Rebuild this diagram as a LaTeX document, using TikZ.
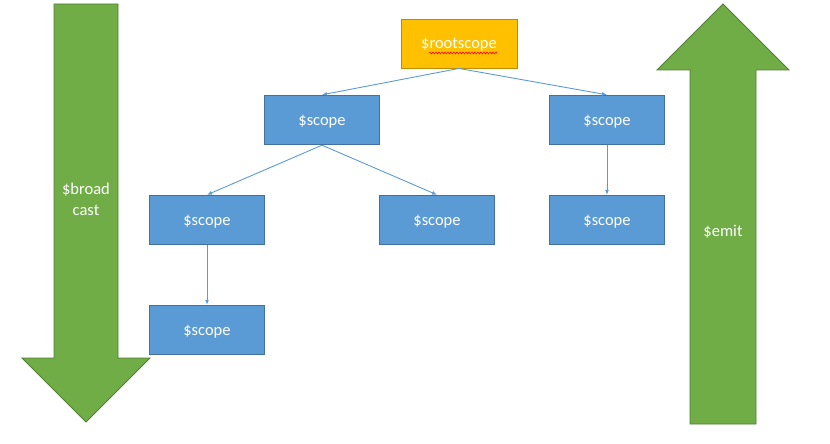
\documentclass[tikz,border=0pt]{standalone}
\usepackage{fontspec}
\setmainfont{Carlito}
\usetikzlibrary{arrows.meta,decorations.pathmorphing}
\definecolor{boxblue}{HTML}{5B9BD5}
\definecolor{boxedge}{HTML}{41719C}
\definecolor{rootfill}{HTML}{FFC000}
\definecolor{rootedge}{HTML}{BC8C00}
\definecolor{arrgreen}{HTML}{70AD47}
\definecolor{arredge}{HTML}{507E32}
\tikzset{
  scopebox/.style={draw=boxedge, fill=boxblue, line width=0.9pt, minimum width=115pt, minimum height=49.5pt, inner sep=0pt, text=white, text depth=0pt, font=\fontsize{16.5}{20}\selectfont},
  rootbox/.style={scopebox, draw=rootedge, fill=rootfill, minimum width=116pt, minimum height=49pt},
  bigarrow/.style={fill=arrgreen, draw=arredge, line width=0.8pt},
  arrowtext/.style={text=white, font=\fontsize{16.5}{21}\selectfont, align=center, inner sep=0pt},
  link/.style={draw=boxblue, line width=0.9pt, -{Latex[length=5pt,width=4pt]}}
}
\begin{document}
\begin{tikzpicture}[x=1pt,y=-1pt]
\useasboundingbox (0,0) rectangle (830,444);
% big arrows
\draw[bigarrow] (54,4) -- (118,4) -- (118,358) -- (150,358) -- (86,422) -- (22,358) -- (54,358) -- cycle;
\draw[bigarrow] (723,4) -- (789,70) -- (756,70) -- (756,424) -- (690,424) -- (690,70) -- (657,70) -- cycle;
\node[arrowtext] (bc) at (86,199) {\$broad\\cast};
\node[arrowtext] (em) at (723,231.5) {\$emit};
% nodes
\node[rootbox] (root) at (459,43.5) {\$rootscope};
\draw[red, line width=0.6pt, decorate, decoration={snake, amplitude=0.9pt, segment length=3pt}] (429,53) -- (497,53);
\node[scopebox] (l1) at (322,120) {\$scope};
\node[scopebox] (r1) at (607,120) {\$scope};
\node[scopebox] (l2a) at (207,220) {\$scope};
\node[scopebox] (l2b) at (437,220) {\$scope};
\node[scopebox] (r2) at (607,220) {\$scope};
\node[scopebox] (l3) at (207,330) {\$scope};
% links
\draw[link] (root.south) -- (l1.north);
\draw[link] (root.south) -- (r1.north);
\draw[link] (l1.south) -- (l2a.north);
\draw[link] (l1.south) -- (l2b.north);
\draw[link] (r1.south) -- (r2.north);
\draw[link] (l2a.south) -- (l3.north);
\end{tikzpicture}
\end{document}
